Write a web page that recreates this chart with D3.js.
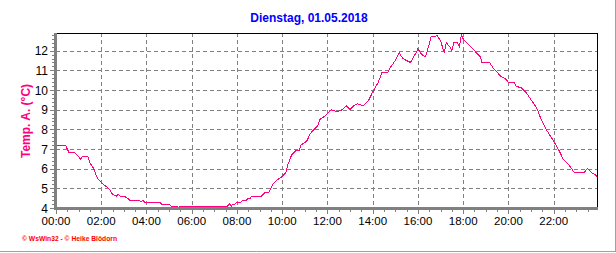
<!DOCTYPE html>
<html>
<head>
<meta charset="utf-8">
<script src="https://cdn.jsdelivr.net/npm/d3@7"></script>
<style>
  body { margin: 0; background: #fff; }
  svg { display: block; font-family: "Liberation Sans", Arial, sans-serif; }
</style>
</head>
<body>
<svg id="chart" width="616" height="253"></svg>
<script>
// values (time of day, outside temperature in °C)
var times = ["00:00","00:25","00:35","00:50","01:00","01:05","01:10","01:25","01:30","01:40",
	"01:50","02:05","02:20","02:30","02:40","02:45","02:50","03:00","03:10","03:15",
	"03:40","03:45","03:50","03:55","04:35","04:40","05:00","05:05","05:20","05:25",
	"05:30","07:35","07:40","07:45","07:50","07:55","08:00","08:10","08:15","08:25",
	"08:30","08:35","08:40","09:05","09:15","09:25","09:35","09:45","10:00","10:10",
	"10:15","10:25","10:35","10:45","10:50","11:05","11:15","11:25","11:35","11:40",
	"11:55","12:10","12:25","12:40","12:50","13:00","13:10","13:20","13:35","13:50",
	"14:00","14:15","14:25","14:40","14:45","15:00","15:10","15:20","15:30","15:40",
	"15:55","16:00","16:10","16:20","16:25","16:35","16:45","16:50","17:00","17:05",
	"17:10","17:15","17:25","17:30","17:35","17:45","17:50","17:55","18:00","18:10",
	"18:20","18:30","18:35","18:45","18:50","19:10","19:20","19:30","19:40","19:50",
	"20:00","20:15","20:20","20:35","20:50","21:00","21:15","21:25","21:40","22:00",
	"22:15","22:25","22:40","22:55","23:20","23:30","23:40","23:50","23:55"];
var temps = [7.2,7.2,6.8,6.8,6.6,6.5,6.6,6.6,6.3,6.0,
	5.5,5.2,5.0,4.7,4.6,4.7,4.6,4.6,4.5,4.4,
	4.4,4.3,4.4,4.3,4.3,4.2,4.2,4.1,4.1,4.0,
	4.1,4.1,4.2,4.1,4.2,4.2,4.3,4.3,4.4,4.4,
	4.5,4.5,4.6,4.6,4.8,4.8,5.2,5.4,5.6,5.8,
	6.2,6.7,6.9,6.9,7.2,7.4,7.8,8.0,8.2,8.5,
	8.7,9.0,8.9,9.0,9.2,9.0,9.2,9.3,9.2,9.5,
	9.9,10.4,10.9,10.9,11.1,11.5,11.9,11.6,11.5,11.4,
	11.9,12.1,11.8,11.7,12.0,12.7,12.7,12.8,12.5,12.2,
	11.9,12.4,12.2,12.0,12.4,12.4,12.2,12.8,12.6,12.4,
	12.2,12.0,11.9,11.7,11.4,11.4,11.1,10.9,10.7,10.6,
	10.4,10.4,10.2,10.1,9.8,9.5,9.1,8.6,8.0,7.4,
	6.9,6.5,6.2,5.8,5.8,6.0,5.8,5.7,5.6];
var xTickLabels = ["00:00","02:00","04:00","06:00","08:00","10:00","12:00","14:00","16:00","18:00","20:00","22:00"];
var yTickValues = [4,5,6,7,8,9,10,11,12];
var title = "Dienstag, 01.05.2018";
var yTitle = "Temp. A. (°C)";
var footer = "© WsWin32  -  © Heike Blödorn";

var svg = d3.select("#chart");
var pLeft = 56, pRight = 597, pTop = 33, pBottom = 208;

function toHours(s) { var p = s.split(":"); return +p[0] + p[1] / 60; }

var data = times.map(function(t, i) { return { h: toHours(t), v: temps[i] }; });

var x = d3.scaleLinear().domain([0, 23 + 55 / 60]).range([pLeft, pRight]);
var y = d3.scaleLinear().domain([4, 12.9]).range([pBottom, pTop]);

// outer frame (right and bottom shade)
svg.append("line").attr("x1", 615.5).attr("x2", 615.5).attr("y1", 0).attr("y2", 252)
	.attr("stroke", "#a0a0a0");
svg.append("line").attr("x1", 0).attr("x2", 616).attr("y1", 251.5).attr("y2", 251.5)
	.attr("stroke", "#a0a0a0");

// grid
var grid = svg.append("g").attr("shape-rendering", "crispEdges")
	.attr("stroke", "#808080").attr("stroke-dasharray", "4,3");
grid.selectAll(".gy").data(yTickValues.slice(1)).enter().append("line")
	.attr("x1", pLeft).attr("x2", pRight)
	.attr("y1", function(d) { return Math.round(y(d)) + 0.5; })
	.attr("y2", function(d) { return Math.round(y(d)) + 0.5; });
grid.selectAll(".gx").data(xTickLabels.slice(1)).enter().append("line")
	.attr("y1", pTop).attr("y2", pBottom)
	.attr("x1", function(d) { return Math.round(x(toHours(d))) + 0.5; })
	.attr("x2", function(d) { return Math.round(x(toHours(d))) + 0.5; });

// top and right border
svg.append("path").attr("d", "M" + pLeft + "," + (pTop + 0.5) + "H" + (pRight + 0.5) + "V" + pBottom)
	.attr("fill", "none").attr("stroke", "#000").attr("shape-rendering", "crispEdges");

// line
var line = d3.line().x(function(d) { return x(d.h); }).y(function(d) { return y(d.v); });
svg.append("path").datum(data).attr("d", line)
	.attr("fill", "none").attr("stroke", "#ff0080").attr("stroke-width", 1)
	.attr("shape-rendering", "crispEdges");

// y axis: thick gray bar with minor ticks
var ax = svg.append("g").attr("shape-rendering", "crispEdges").attr("stroke", "#808080");
ax.append("rect").attr("x", 54).attr("y", pTop).attr("width", 3).attr("height", pBottom - pTop + 2)
	.attr("fill", "#808080").attr("stroke", "none");
ax.selectAll(".ym").data(d3.range(4, 12.81, 0.2)).enter().append("line")
	.attr("x1", 52).attr("x2", 54)
	.attr("y1", function(d) { return Math.round(y(d)) + 0.5; })
	.attr("y2", function(d) { return Math.round(y(d)) + 0.5; });
ax.selectAll(".yM").data(yTickValues).enter().append("line")
	.attr("x1", 50).attr("x2", 54)
	.attr("y1", function(d) { return Math.round(y(d)) + 0.5; })
	.attr("y2", function(d) { return Math.round(y(d)) + 0.5; });

// x axis: thick gray bar with ticks
ax.append("rect").attr("x", 54).attr("y", pBottom - 1).attr("width", pRight - 54 + 1).attr("height", 3)
	.attr("fill", "#808080").attr("stroke", "none");
ax.selectAll(".xm").data(d3.range(0, 24, 0.5)).enter().append("line")
	.attr("y1", pBottom + 2).attr("y2", pBottom + 4)
	.attr("x1", function(d) { return Math.round(x(d)) + 0.5; })
	.attr("x2", function(d) { return Math.round(x(d)) + 0.5; });
ax.selectAll(".xM").data(xTickLabels).enter().append("line")
	.attr("y1", pBottom + 2).attr("y2", pBottom + 6)
	.attr("x1", function(d) { return Math.round(x(toHours(d))) + 0.5; })
	.attr("x2", function(d) { return Math.round(x(toHours(d))) + 0.5; });

// tick labels
svg.selectAll(".yl").data(yTickValues).enter().append("text")
	.attr("x", 48).attr("y", function(d) { return y(d) + 4.5; })
	.attr("text-anchor", "end").attr("font-size", "12px").attr("fill", "#000")
	.text(function(d) { return d; });
svg.selectAll(".xl").data(xTickLabels).enter().append("text")
	.attr("x", function(d) { return x(toHours(d)); }).attr("y", 225)
	.attr("text-anchor", "middle").attr("font-size", "11.5px").attr("fill", "#000")
	.text(function(d) { return d; });

// titles
svg.append("text").attr("x", 309).attr("y", 22).attr("text-anchor", "middle")
	.attr("font-size", "12px").attr("font-weight", "bold").attr("fill", "#0000ff")
	.text(title);
svg.append("text").attr("transform", "translate(30,121) rotate(-90)").attr("text-anchor", "middle")
	.attr("font-size", "12px").attr("font-weight", "bold").attr("fill", "#ff0080")
	.text(yTitle);
svg.append("text").attr("x", 22).attr("y", 241).attr("font-size", "7px").attr("font-weight", "bold")
	.attr("fill", "#ff0000").attr("textLength", 95).attr("lengthAdjust", "spacingAndGlyphs")
	.text(footer);
</script>
</body>
</html>
